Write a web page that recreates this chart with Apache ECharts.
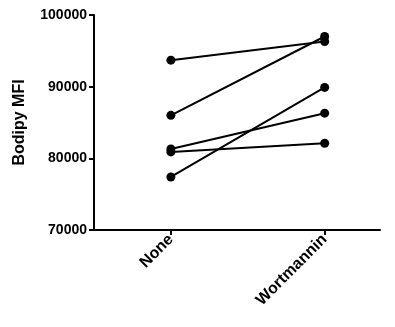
<!DOCTYPE html>
<html>
<head>
<meta charset="utf-8">
<script src="https://cdn.jsdelivr.net/npm/echarts@6/dist/echarts.min.js"></script>
<style>html,body{margin:0;padding:0;background:#fff;}#c{width:395px;height:327px;}</style>
</head>
<body>
<div id="c"></div>
<script>
var categories = ['None', 'Wortmannin'];
var noneValues = [93700, 86000, 81300, 80900, 77400];
var wortmanninValues = [96300, 97000, 86300, 82100, 89900];
var yTicks = [70000, 80000, 90000, 100000];

var chart = echarts.init(document.getElementById('c'), null, {renderer: 'canvas'});
var series = noneValues.map(function (v, i) {
  return {
    type: 'line',
    data: [[0, v], [1, wortmanninValues[i]]],
    symbol: 'circle',
    symbolSize: 9,
    itemStyle: {color: '#000'},
    lineStyle: {color: '#000', width: 2},
    animation: false,
    z: 3
  };
});
var font = 'Liberation Sans, Arial, sans-serif';
chart.setOption({
  animation: false,
  grid: {left: 94, top: 15, right: 15, bottom: 97, containLabel: false},
  xAxis: {
    type: 'value',
    min: -0.5,
    max: 1.36,
    splitLine: {show: false},
    axisLine: {onZero: false, lineStyle: {color: '#000', width: 2}},
    axisTick: {show: true, customValues: [0, 1], length: 5, lineStyle: {color: '#000', width: 2}},
    axisLabel: {
      customValues: [0, 1],
      rotate: 45,
      margin: 7,
      color: '#000',
      fontFamily: font,
      fontWeight: 'bold',
      fontSize: 16,
      formatter: function (v) { return categories[Math.round(v)]; }
    }
  },
  yAxis: {
    type: 'value',
    min: yTicks[0],
    max: yTicks[yTicks.length - 1],
    interval: 10000,
    name: 'Bodipy MFI',
    nameLocation: 'middle',
    nameGap: 66,
    nameTextStyle: {color: '#000', fontFamily: font, fontWeight: 'bold', fontSize: 16},
    splitLine: {show: false},
    axisLine: {show: true, onZero: false, lineStyle: {color: '#000', width: 2}},
    axisTick: {show: true, length: 5, lineStyle: {color: '#000', width: 2}},
    axisLabel: {
      color: '#000', fontFamily: font, fontWeight: 'bold', fontSize: 14, margin: 7,
      formatter: function (v) { return String(v); }
    }
  },
  series: series
});
</script>
</body>
</html>
